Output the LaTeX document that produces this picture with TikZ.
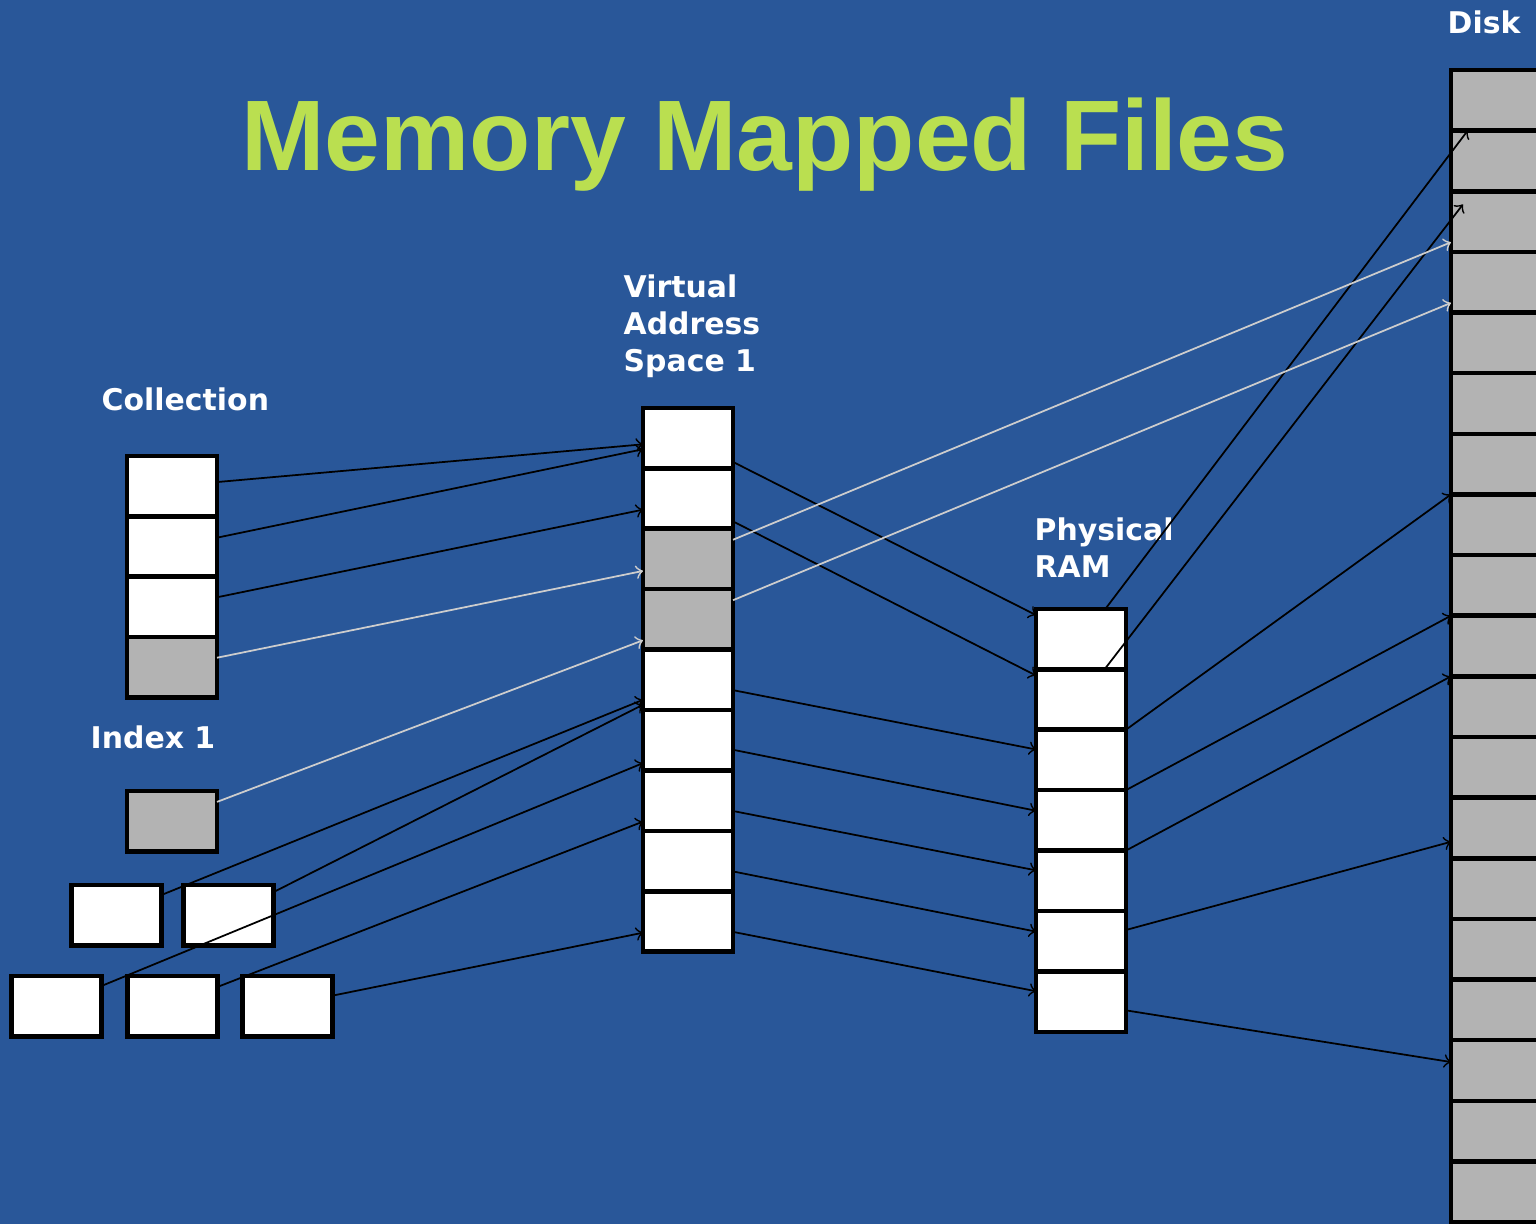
\documentclass[tikz,border=0pt]{standalone}
\usepackage{fontspec}
\setmainfont{Liberation Sans}
\newfontfamily\lblfont{DejaVu Sans}
\usetikzlibrary{chains,positioning}

\definecolor{slideblue}{RGB}{41,87,153}
\definecolor{titlegreen}{RGB}{186,223,80}
\definecolor{pagegray}{RGB}{179,179,179}
\definecolor{faintgray}{RGB}{205,205,205}

\tikzset{
  page/.style={draw, line width=1.3pt, fill=white, minimum width=0.9cm,
    minimum height=0.604cm, inner sep=0pt, outer sep=0pt},
  mapped/.style={page, fill=pagegray},
  block/.style={mapped, minimum width=1.2cm, minimum height=0.606cm},
  lbl/.style={text=white, inner sep=0pt, align=left,
    font=\lblfont\bfseries\fontsize{8.5pt}{10.5pt}\selectfont},
}

\begin{document}
\begin{tikzpicture}[x=0.01cm, y=-0.01cm, node distance=0pt]
\useasboundingbox (0,0) rectangle (1536,1224);
\clip (0,0) rectangle (1536,1224);
\fill[slideblue] (0,0) rectangle (1536,1224);

\node[anchor=base, text=titlegreen, font=\bfseries\fontsize{28.5pt}{30pt}\selectfont]
  (title) at (765,170) {Memory Mapped Files};

% labels
\node[lbl, anchor=base west] (lblcoll) at (101,410) {Collection};
\node[lbl, anchor=base west] (lblidx)  at (90,748)  {Index 1};
\node[lbl, anchor=north west] (lblvas) at (623,274) {Virtual\\Address\\Space 1};
\node[lbl, anchor=north west] (lblram) at (1034,517) {Physical\\RAM};
\node[lbl, anchor=base west] (lbldisk) at (1447,33) {Disk};

% collection + index
\begin{scope}[start chain=coll going below]
\node[page, on chain]   (c1) at (172,486) {};
\node[page, on chain]   (c2) {};
\node[page, on chain]   (c3) {};
\node[mapped, on chain] (c4) {};
\end{scope}
\node[mapped] (idx) at (172,821) {};
\node[page] (t1) at (116.5,915) {};
\node[page, right=0.22cm of t1] (t2) {};
\node[page] (b1) at (56.5,1006) {};
\node[page, right=0.26cm of b1] (b2) {};
\node[page, right=0.25cm of b2] (b3) {};

% virtual address space
\begin{scope}[start chain=vas going below]
\node[page, on chain]   (v1) at (688,438) {};
\node[page, on chain]   (v2) {};
\node[mapped, on chain] (v3) {};
\node[mapped, on chain] (v4) {};
\node[page, on chain]   (v5) {};
\node[page, on chain]   (v6) {};
\node[page, on chain]   (v7) {};
\node[page, on chain]   (v8) {};
\node[page, on chain]   (v9) {};
\end{scope}

% physical ram
\begin{scope}[start chain=ram going below]
\node[page, on chain] (r1) at (1081,639) {};
\foreach \i in {2,...,7}
  \node[page, on chain] (r\i) {};
\end{scope}

% disk
\begin{scope}[start chain=disk going below]
\node[block, on chain] (d1) at (1511,100.3) {};
\foreach \i in {2,...,19}
  \node[block, on chain] (d\i) {};
\end{scope}

\path[->, line width=0.5pt]
  (c1.5)  edge (v1.188)
  (c2.11) edge (v1.194)
  (c3.12) edge (v2.194)
  (t1.24) edge (v5.204)
  (t2.27) edge (v5.209)
  (b1.24) edge (v6.207)
  (b2.23) edge (v7.205)
  (b3.13) edge (v9.194)
  (v1.-28) edge (r1.152)
  (v2.-27) edge (r2.152)
  (v5.-13) edge (r3.167)
  (v6.-12) edge (r4.168)
  (v7.-13) edge (r5.167)
  (v8.-13) edge (r6.168)
  (v9.-13) edge (r7.167)
  (r1.51)  edge (d2.145)
  (r2.52)  edge ([xshift=0.12cm]d3.164)
  (r2.south east) edge (d7.south west)
  (r4.north east) edge (d10.north west)
  (r5.north east) edge (d11.north west)
  (r6.14)  edge (d13.193)
  (r7.-11) edge (d17.172);

\path[->, color=faintgray, line width=0.5pt]
  (c4.12)  edge (v3.195)
  (idx.23) edge (v4.205)
  (v3.23)  edge (d3.199)
  (v4.23)  edge (d4.199);
\end{tikzpicture}
\end{document}
